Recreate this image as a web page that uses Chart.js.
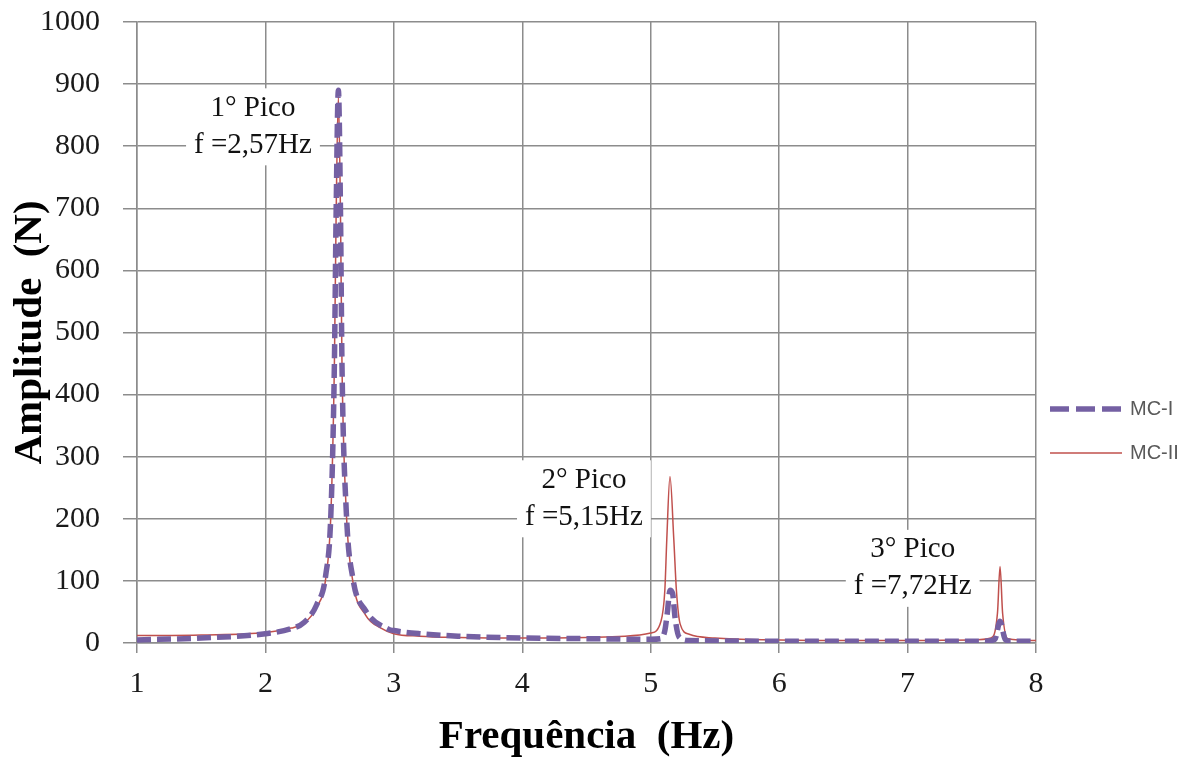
<!doctype html>
<html>
<head>
<meta charset="utf-8">
<title>Amplitude x Frequencia</title>
<script src="https://cdn.jsdelivr.net/npm/chart.js@4.4.1/dist/chart.umd.min.js"></script>
<style>
html, body { margin: 0; padding: 0; background: #fff; }
#container { width: 1193px; height: 762px; }
</style>
</head>
<body>
	<div id="container">
		<canvas id="canvas"></canvas>
	</div>

	<script>
	// MC-I (dashed)
	var freqMC1 = [1.0, 1.5, 2.0, 2.2, 2.3, 2.4, 2.47, 2.51, 2.537, 2.55, 2.568, 2.585, 2.596, 2.63, 2.68, 2.78, 2.96, 3.0, 3.2, 3.5, 4.0, 4.5, 5.0, 5.08, 5.11, 5.13, 5.15, 5.17, 5.19, 5.22, 5.3, 6.0, 7.0, 7.6, 7.68, 7.72, 7.76, 7.8, 8.0];
	var ampMC1  = [5, 8, 15, 23, 33, 62, 110, 210, 450, 685, 890, 685, 450, 210, 105, 52, 22, 20, 15, 11, 8, 7, 6, 7, 20, 50, 85, 80, 40, 10, 4, 3, 3, 3, 6, 35, 6, 3, 3];

	// MC-II (solid)
	var freqMC2 = [1.0, 1.5, 2.0, 2.2, 2.3, 2.4, 2.47, 2.51, 2.537, 2.55, 2.568, 2.585, 2.596, 2.63, 2.68, 2.78, 2.9, 3.0, 3.2, 3.5, 4.0, 4.5, 4.8, 5.0, 5.08, 5.11, 5.125, 5.15, 5.18, 5.2, 5.23, 5.3, 5.5, 6.0, 6.5, 7.0, 7.5, 7.65, 7.7, 7.72, 7.74, 7.78, 8.0];
	var ampMC2  = [12, 13, 17, 24, 32, 58, 105, 210, 450, 680, 880, 680, 450, 210, 100, 45, 24, 15, 11, 9, 8, 9, 11, 16, 35, 85, 166, 268, 166, 85, 30, 14, 8, 5, 4, 4, 5, 8, 48, 123, 48, 7, 4];

	var seriesNames = ["MC-I", "MC-II"];

	// peak labels: text lines, anchored at (freq, amplitude) of the first line
	var peakLines = [["1\u00b0 Pico", "f =2,57Hz"], ["2\u00b0 Pico", "f =5,15Hz"], ["3\u00b0 Pico", "f =7,72Hz"]];
	var peakAt = [[1.903, 861], [4.48, 262], [7.04, 150]];

	function toPoints(xs, ys) {
		var pts = [];
		for (var i = 0; i < xs.length; i++) pts.push({x: xs[i], y: ys[i]});
		return pts;
	}

	var gridColor = '#8c8c8c';
	var serif = "'Liberation Serif', 'Times New Roman', serif";

	var peakLabels = {
		id: 'peakLabels',
		beforeDatasetsDraw: function(chart) {
			var ctx = chart.ctx, xs = chart.scales.x, ys = chart.scales.y;
			ctx.save();
			ctx.font = '29px ' + serif;
			ctx.textAlign = 'center';
			ctx.textBaseline = 'middle';
			for (var i = 0; i < peakLines.length; i++) {
				var cx = xs.getPixelForValue(peakAt[i][0]);
				var cy = ys.getPixelForValue(peakAt[i][1]);
				var lh = 37, w = 0;
				peakLines[i].forEach(function(t) { w = Math.max(w, ctx.measureText(t).width); });
				ctx.fillStyle = '#fff';
				ctx.fillRect(cx - w / 2 - 8, cy - 20, w + 16, lh * (peakLines[i].length - 1) + 40);
				ctx.fillStyle = '#111';
				peakLines[i].forEach(function(t, k) { ctx.fillText(t, cx, cy + k * lh); });
			}
			ctx.restore();
		}
	};

	var sideLegend = {
		id: 'sideLegend',
		afterDraw: function(chart) {
			var ctx = chart.ctx;
			var x0 = chart.chartArea.right + 14, rows = [409, 453];
			ctx.save();
			chart.data.datasets.forEach(function(ds, i) {
				ctx.strokeStyle = ds.borderColor;
				ctx.lineWidth = ds.borderWidth;
				ctx.setLineDash(ds.borderDash ? [19, 7] : []);
				ctx.beginPath();
				ctx.moveTo(x0, rows[i]);
				ctx.lineTo(x0 + 72, rows[i]);
				ctx.stroke();
				ctx.setLineDash([]);
				ctx.fillStyle = '#595959';
				ctx.font = "20px 'Liberation Sans', Arial, sans-serif";
				ctx.textAlign = 'left';
				ctx.textBaseline = 'middle';
				ctx.fillText(ds.label, x0 + 80, rows[i]);
			});
			ctx.restore();
		}
	};

	var ctx = document.getElementById('canvas').getContext('2d');
	window.myChart = new Chart(ctx, {
		type: 'line',
		data: {
			datasets: [{
				label: seriesNames[0],
				data: toPoints(freqMC1, ampMC1),
				borderColor: '#7460a3',
				borderWidth: 5.5,
				borderDash: [14, 6],
				pointRadius: 0,
				cubicInterpolationMode: 'monotone'
			}, {
				label: seriesNames[1],
				data: toPoints(freqMC2, ampMC2),
				borderColor: '#c0504d',
				borderWidth: 1.5,
				pointRadius: 0,
				cubicInterpolationMode: 'monotone'
			}]
		},
		options: {
			responsive: true,
			maintainAspectRatio: false,
			animation: false,
			layout: { padding: { top: 22, right: 157, left: 0, bottom: 0 } },
			plugins: {
				legend: { display: false },
				tooltip: { enabled: false }
			},
			scales: {
				x: {
					type: 'linear',
					min: 1, max: 8,
					ticks: { stepSize: 1, padding: 13, color: '#1a1a1a', font: { family: serif, size: 30 },
						callback: function(v) { return String(v); } },
					grid: { color: gridColor, lineWidth: 1.5, tickLength: 10, tickColor: gridColor },
					border: { color: gridColor, width: 1.5 },
					title: { display: true, text: 'Frequ\u00eancia  (Hz)', color: '#000', font: { family: serif, size: 41, weight: 'bold' }, padding: 0 },
					afterFit: function(scale) { scale.height = 119; scale.paddingLeft = 0; scale.paddingRight = 0; }
				},
				y: {
					min: 0, max: 1000,
					ticks: { stepSize: 100, padding: 23, color: '#1a1a1a', font: { family: serif, size: 30 },
						callback: function(v) { return String(v); } },
					grid: { color: gridColor, lineWidth: 1.5, tickLength: 14, tickColor: gridColor },
					border: { color: gridColor, width: 1.5 },
					title: { display: true, text: 'Amplitude  (N)', color: '#000', font: { family: serif, size: 41, weight: 'bold' }, padding: { top: 6, bottom: 0 } },
					afterFit: function(scale) { scale.width = 137; scale.paddingTop = 0; scale.paddingBottom = 0; }
				}
			}
		},
		plugins: [peakLabels, sideLegend]
	});
	</script>
</body>
</html>
